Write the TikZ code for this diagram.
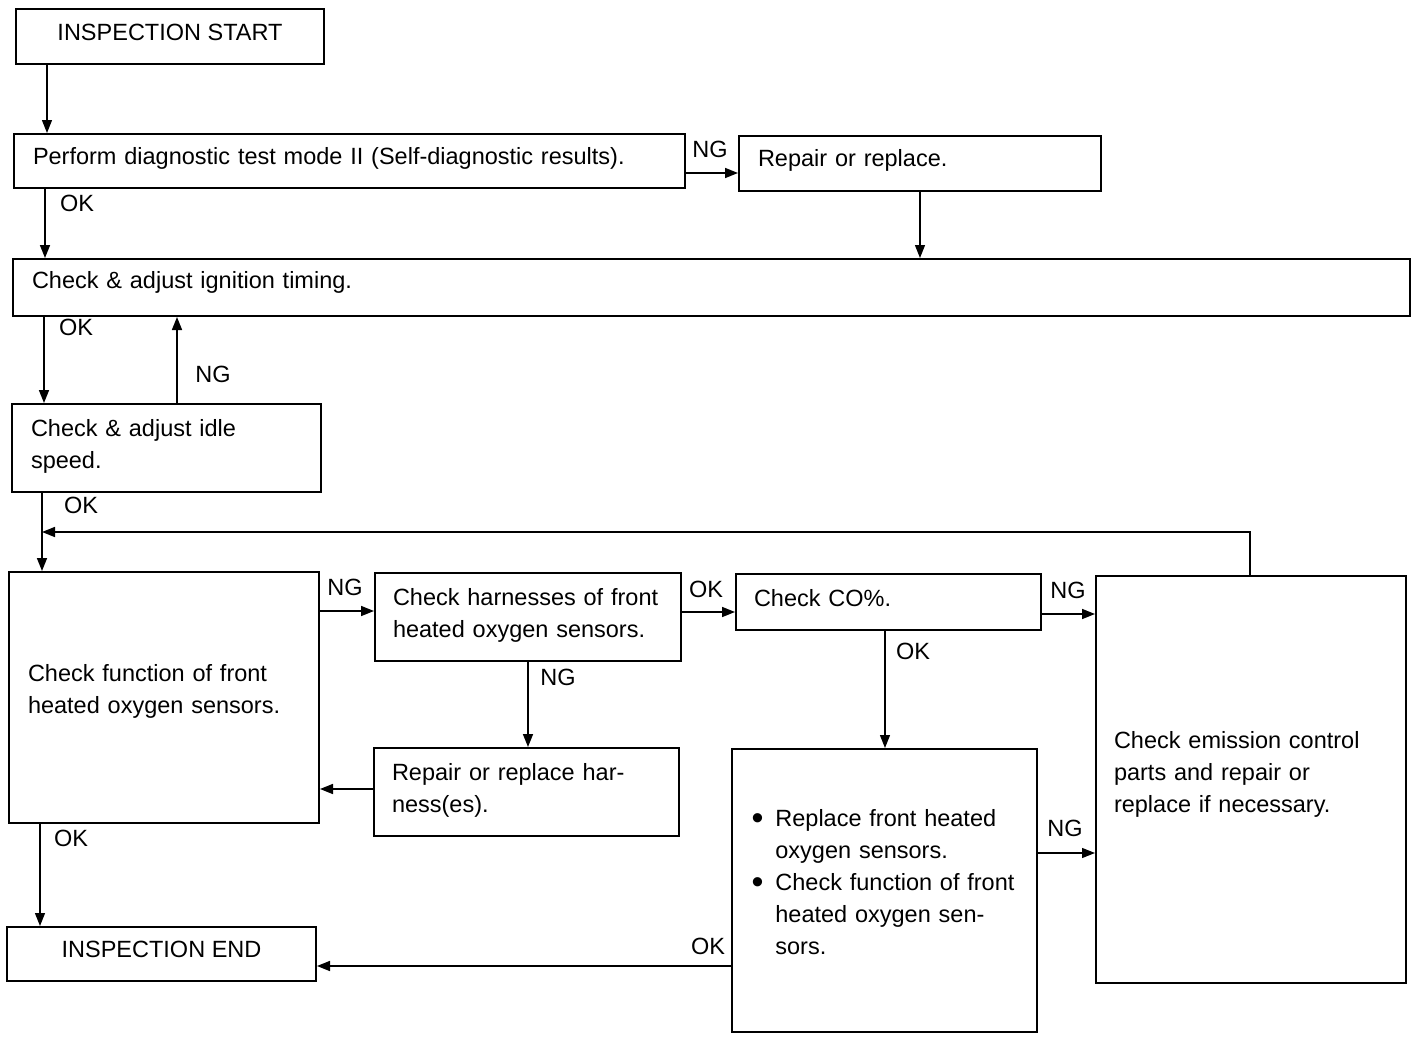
\documentclass[tikz,border=0pt]{standalone}
\usepackage{fontspec}
\setmainfont{Liberation Sans}
\usetikzlibrary{arrows.meta}
\newcommand{\bulletmark}{{\fontsize{34}{32}\selectfont\raisebox{-3pt}{•}}}
\begin{document}
\begin{tikzpicture}[x=1pt,y=-1pt,
  box/.style={draw, line width=2pt, rectangle, anchor=north west, inner ysep=0pt,
    font=\fontsize{23.5}{32}\selectfont},
  lbox/.style={box, align=left, inner xsep=19pt},
  cbox/.style={box, align=center},
  bl/.style={text height=#1, text depth=0pt},
  blup/.style={text height=0pt, text depth=#1},
  lbl/.style={font=\fontsize{23.5}{28}\selectfont, inner sep=0pt},
  arr/.style={line width=1.6pt, -{Triangle[length=13pt,width=10pt]}},
  thinarr/.style={line width=1.2pt, -{Triangle[length=13pt,width=10pt]}}]
\useasboundingbox (0,0) rectangle (1424,1044);

% boxes
\node[cbox, bl=7pt, minimum width=308pt, minimum height=55pt] (start) at (15,8) {INSPECTION START};
\node[lbox, bl=6pt, minimum width=671pt, minimum height=54pt, text width=633pt] (perf) at (13,133) {Perform diagnostic test mode II (Self-diagnostic results).};
\node[lbox, bl=5pt, minimum width=362pt, minimum height=55pt, text width=324pt] (rep) at (738,135) {Repair or replace.};
\node[lbox, bl=2pt, minimum width=1397pt, minimum height=57pt, text width=1359pt] (ign) at (12,258) {Check \& adjust ignition timing.};
\node[lbox, blup=24pt, minimum width=309pt, minimum height=88pt, text width=271pt] (idle) at (11,403) {Check \& adjust idle\\speed.};
\node[lbox, blup=33pt, minimum width=310pt, minimum height=251pt, text width=272pt] (func) at (8,571) {Check function of front\\heated oxygen sensors.};
\node[lbox, blup=24pt, minimum width=306pt, minimum height=88pt, text width=270pt, inner xsep=18pt] (harn) at (374,572) {Check harnesses of front\\heated oxygen sensors.};
\node[lbox, bl=8pt, minimum width=305pt, minimum height=56pt, text width=269pt, inner xsep=18pt] (co) at (735,573) {Check CO\%.};
\node[lbox, blup=63pt, minimum width=310pt, minimum height=407pt, text width=274pt, inner xsep=18pt] (emis) at (1095,575) {Check emission control\\parts and repair or\\replace if necessary.};
\node[lbox, blup=24pt, minimum width=305pt, minimum height=88pt, text width=269pt, inner xsep=18pt] (rharn) at (373,747) {Repair or replace har-\\ness(es).};
\node[lbox, bl=127pt, minimum width=305pt, minimum height=283pt, text width=266pt, inner xsep=19.5pt] (repl) at (731,748) {%
  \begin{tabular}[b]{@{}l@{\hspace{12pt}}l@{}}
  \bulletmark & Replace front heated\\
              & oxygen sensors.\\
  \bulletmark & Check function of front\\
              & heated oxygen sen-\\
              & sors.
  \end{tabular}};
\node[cbox, bl=6pt, minimum width=309pt, minimum height=54pt] (end) at (6,926) {INSPECTION END};

% connectors
\draw[thinarr] ([xshift=32pt]start.south west) -- ([xshift=32pt]start.south west |- perf.north);
\draw[arr] ([xshift=32pt]perf.south west) -- ([xshift=32pt]perf.south west |- ign.north);
\draw[arr] ([yshift=-12pt]perf.east) -- ([yshift=-12pt]perf.east -| rep.west);
\draw[thinarr] (rep.south) -- (rep.south |- ign.north);
\draw[arr] ([xshift=32pt]ign.south west) -- ([xshift=32pt]ign.south west |- idle.north);
\draw[arr] ([xshift=166pt]idle.north west) -- ([xshift=166pt]idle.north west |- ign.south);
\draw[arr] ([xshift=31pt]idle.south west) -- ([xshift=31pt]idle.south west |- func.north);
\coordinate (loopend) at (42,532);
\draw[arr] ([xshift=155pt]emis.north west) |- (loopend);
\draw[arr] ([yshift=-40pt]func.north east) -- ([yshift=-40pt]func.north east -| harn.west);
\draw[arr] ([yshift=-40pt]harn.north east) -- ([yshift=-40pt]harn.north east -| co.west);
\draw[arr] (harn.south) -- (harn.south |- rharn.north);
\draw[arr] ([yshift=3pt]rharn.west) -- ([yshift=3pt]rharn.west -| func.east);
\draw[arr] ([yshift=-41pt]co.north east) -- ([yshift=-41pt]co.north east -| emis.west);
\draw[thinarr] ([xshift=150pt]co.south west) -- ([xshift=150pt]co.south west |- repl.north);
\draw[thinarr] ([yshift=-105pt]repl.north east) -- ([yshift=-105pt]repl.north east -| emis.west);
\draw[arr] ([yshift=-218pt]repl.north west) -- ([yshift=-218pt]repl.north west -| end.east);
\draw[thinarr] ([xshift=32pt]func.south west) -- ([xshift=32pt]func.south west |- end.north);

% labels
\node[lbl] (l1) at (77,203) {OK};
\node[lbl] (l2) at (710,149) {NG};
\node[lbl] (l3) at (76,327) {OK};
\node[lbl] (l4) at (213,374) {NG};
\node[lbl] (l5) at (81,505) {OK};
\node[lbl] (l6) at (345,587) {NG};
\node[lbl] (l7) at (706,589) {OK};
\node[lbl] (l8) at (558,677) {NG};
\node[lbl] (l9) at (1068,590) {NG};
\node[lbl] (l10) at (913,651) {OK};
\node[lbl] (l11) at (1065,828) {NG};
\node[lbl] (l12) at (708,946) {OK};
\node[lbl] (l13) at (71,838) {OK};
\end{tikzpicture}
\end{document}
